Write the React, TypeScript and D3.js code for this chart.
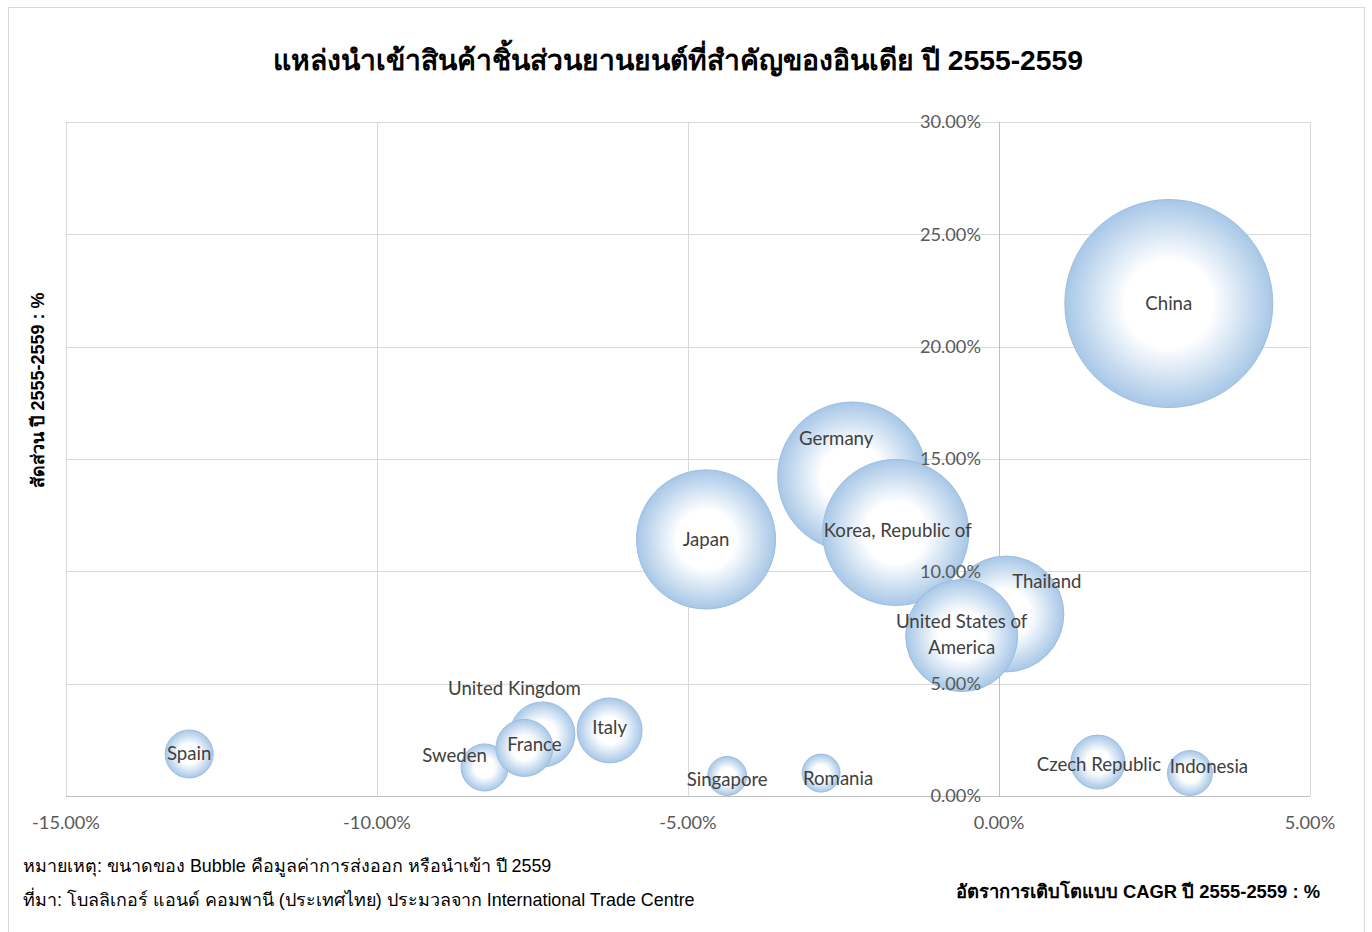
import * as d3 from 'd3';

// Excel bubble chart: import sources of Indian auto parts, 2555-2559 (B.E.)
const countries = [
  'China', 'Germany', 'Korea, Republic of', 'Japan', 'Thailand',
  'United States of America', 'United Kingdom', 'Italy', 'Sweden', 'France',
  'Spain', 'Czech Republic', 'Singapore', 'Romania', 'Indonesia',
];
// CAGR 2555-2559 (%)
const cagr = [2.73, -2.36, -1.66, -4.71, 0.11, -0.6, -7.34, -6.26, -8.27, -7.63, -13.02, 1.59, -4.37, -2.86, 3.07];
// share 2555-2559 (%)
const share = [21.92, 14.22, 11.73, 11.42, 8.1, 7.14, 2.74, 2.92, 1.27, 2.14, 1.87, 1.51, 0.89, 1.02, 1.02];
// bubble size: import value 2559
const importValue = [2850, 1462, 1405, 1274, 886, 827, 278, 278, 146, 214, 152, 192, 100, 95, 133];

const xTicks = [-15, -10, -5, 0, 5];
const yTicks = [0, 5, 10, 15, 20, 25, 30];

// label nudges (px) like the hand-placed Excel data labels
const labelNudge: Record<string, [number, number]> = {
  'Germany': [-16, -38],
  'Korea, Republic of': [2, -2],
  'Thailand': [41, -33],
  'United States of America': [0, -1],
  'United Kingdom': [-28, -46],
  'Italy': [0, -3],
  'Sweden': [-30, -12],
  'France': [10, -3],
  'Czech Republic': [1, 2],
  'Singapore': [0, 3],
  'Romania': [17, 5],
  'Indonesia': [19, -7],
};

const W = 1372;
const H = 932;
const plot = { left: 66, right: 1310, top: 122, bottom: 796 };
const labelFont = 'Lato, "Open Sans", sans-serif';
const thaiFont = '"Liberation Sans", Arial, sans-serif';

const fmt = (v: number) => v.toFixed(2) + '%';

export default function App() {
  const x = d3.scaleLinear().domain([-15, 5]).range([plot.left, plot.right]);
  const y = d3.scaleLinear().domain([0, 30]).range([plot.bottom, plot.top]);
  const r = d3.scaleSqrt().domain([0, d3.max(importValue) as number]).range([0, 104]);

  const data = countries.map((name, i) => ({
    name, x: cagr[i], y: share[i], size: importValue[i],
  }));

  return (
    <svg width={W} height={H} style={{ position: 'absolute', left: 0, top: 0, background: '#fff' }}>
      <defs>
        <radialGradient id="bubble-fill" cx="50%" cy="50%" r="50%">
          <stop offset="0%" stopColor="#ffffff" />
          <stop offset="42%" stopColor="#ffffff" />
          <stop offset="100%" stopColor="#a7c7e7" />
        </radialGradient>
      </defs>

      <rect x={8.5} y={7.5} width={1356} height={930} fill="#fff" stroke="#d9d9d9" />

      {/* title */}
      <text x={678} y={60} textAnchor="middle" dy="0.35em"
        style={{ fontFamily: thaiFont, fontSize: 28.3, fontWeight: 'bold', fill: '#000' }}>
        แหล่งนำเข้าสินค้าชิ้นส่วนยานยนต์ที่สำคัญของอินเดีย ปี 2555-2559
      </text>

      {/* gridlines */}
      <g stroke="#d9d9d9" strokeWidth={1}>
        {yTicks.filter(t => t > 0).map(t => (
          <line key={'gy' + t} x1={plot.left} x2={plot.right} y1={Math.round(y(t)) + 0.5} y2={Math.round(y(t)) + 0.5} />
        ))}
        {xTicks.filter(t => t !== 0).map(t => (
          <line key={'gx' + t} x1={Math.round(x(t)) + 0.5} x2={Math.round(x(t)) + 0.5} y1={plot.top} y2={plot.bottom} />
        ))}
      </g>
      {/* axes */}
      <g stroke="#bfbfbf" strokeWidth={1}>
        <line x1={Math.round(x(0)) + 0.5} x2={Math.round(x(0)) + 0.5} y1={plot.top} y2={plot.bottom} />
        <line x1={plot.left} x2={plot.right} y1={Math.round(y(0)) + 0.5} y2={Math.round(y(0)) + 0.5} />
      </g>

      {/* bubbles */}
      <g>
        {data.map(d => (
          <circle key={d.name} cx={x(d.x)} cy={y(d.y)} r={r(d.size)}
            fill="url(#bubble-fill)" stroke="#9dbde0" strokeWidth={1} />
        ))}
      </g>

      {/* tick labels; y labels sit at the x=0 axis */}
      <g style={{ fontFamily: labelFont, fontSize: 18.2, fill: '#595959' }}>
        {yTicks.map(t => (
          <text key={'yt' + t} x={x(0) - 18} y={y(t)} dy="0.35em" textAnchor="end">{fmt(t)}</text>
        ))}
        {xTicks.map(t => (
          <text key={'xt' + t} x={x(t)} y={plot.bottom + 27} dy="0.35em" textAnchor="middle">{fmt(t)}</text>
        ))}
      </g>

      {/* data labels */}
      <g style={{ fontFamily: labelFont, fontSize: 18.6, fill: '#404040' }} textAnchor="middle">
        {data.map(d => {
          const [dx, dy] = labelNudge[d.name] || [0, 0];
          const cx = x(d.x) + dx;
          const cy = y(d.y) + dy;
          if (d.name === 'United States of America') {
            return (
              <text key={'l' + d.name} x={cx} y={cy}>
                <tspan x={cx} dy="-0.35em">United States of</tspan>
                <tspan x={cx} dy="1.4em">America</tspan>
              </text>
            );
          }
          return <text key={'l' + d.name} x={cx} y={cy} dy="0.35em">{d.name}</text>;
        })}
      </g>

      {/* y axis title */}
      <text transform="translate(38,390) rotate(-90)" textAnchor="middle" dy="0.35em"
        style={{ fontFamily: thaiFont, fontSize: 18, fontWeight: 'bold', fill: '#000' }}>
        สัดส่วน ปี 2555-2559 : %
      </text>

      {/* x axis title */}
      <text x={1320} y={892} textAnchor="end" dy="0.35em"
        style={{ fontFamily: thaiFont, fontSize: 18.4, fontWeight: 'bold', fill: '#000' }}>
        อัตราการเติบโตแบบ CAGR ปี 2555-2559 : %
      </text>

      {/* notes */}
      <g style={{ fontFamily: thaiFont, fontSize: 17.9, fill: '#000' }}>
        <text x={23} y={866} dy="0.35em">หมายเหตุ: ขนาดของ Bubble คือมูลค่าการส่งออก หรือนำเข้า ปี 2559</text>
        <text x={23} y={900} dy="0.35em">ที่มา: โบลลิเกอร์ แอนด์ คอมพานี (ประเทศไทย) ประมวลจาก International Trade Centre</text>
      </g>
    </svg>
  );
}
